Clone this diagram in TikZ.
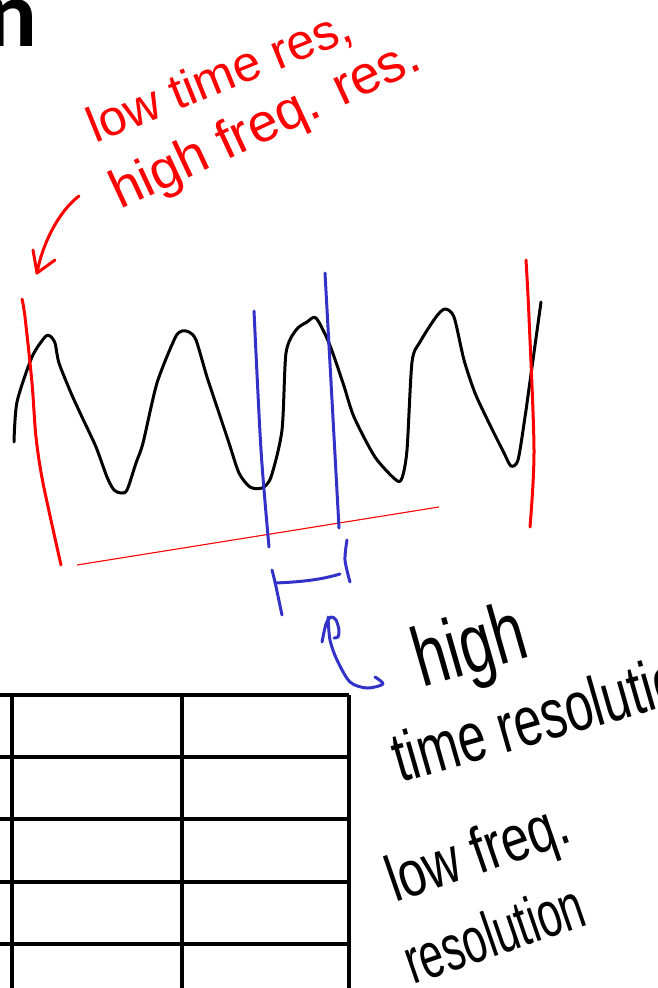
\documentclass[tikz,border=0pt]{standalone}
\usepackage{fontspec}
\usepackage{graphicx}
\setmainfont{Liberation Sans}
\newfontfamily\titlefont{Carlito}
\definecolor{penred}{RGB}{255,0,0}
\definecolor{penblue}{RGB}{50,50,200}
\begin{document}
\begin{tikzpicture}[x=1pt,y=-1pt,
  wave/.style={draw=black, line width=3pt, line cap=round, line join=round},
  redpen/.style={draw=penred, line width=3pt, line cap=round, line join=round},
  redthin/.style={draw=penred, line width=1.1pt},
  bluepen/.style={draw=penblue, line width=3pt, line cap=round, line join=round},
  gridline/.style={draw=black, line width=3.4pt},
  redtext/.style={text=penred, inner sep=0pt, anchor=base west},
  handtext/.style={text=black, inner sep=0pt, anchor=base west}]
\useasboundingbox (0,0) rectangle (657,988);
\clip (0,0) rectangle (657,988);

% cut-off title letter
\node[inner sep=0pt, anchor=base east, font=\titlefont\bfseries\fontsize{95}{100}\selectfont] (title) at (38,46) {n};

% red annotation
\node[redtext, rotate=22, font=\fontsize{50}{60}\selectfont] (lowtime) at (95,144) {low time res,};
\node[redtext, rotate=25, font=\fontsize{54}{60}\selectfont] (highfreq) at (120,210) {high freq. res.};
\coordinate (ra0) at (79,196);
\coordinate (ra1) at (37,273);
\draw[redpen] (ra0) .. controls (58,212) and (42,245) .. (ra1);
\draw[redpen] (33,250) -- (ra1) -- (55,260);

% signal
\draw[wave] plot[smooth, tension=0.45] coordinates {
(14,442) (17,402) (32,357) (45,337) (50,336) (55,343) (59,363) (71,393) (82,417)
(96,447) (107,477) (114,490) (121,493) (127,490) (136,463) (143,443) (157,383)
(175,338) (182,331) (189,332) (196,340) (207,377) (218,410) (229,443) (239,473)
(250,487) (262,488) (271,477) (282,430) (286,353) (296,330) (307,322) (316,318)
(329,343) (343,383) (354,417) (375,457) (396,480) (402,478) (407,450) (412,362)
(420,342) (436,317) (445,309) (454,317) (464,360) (475,393) (489,423) (504,453)
(511,466) (518,460) (525,417) (532,367) (541,302)};

% red window
\draw[redpen] plot[smooth] coordinates {(22,299) (25,317) (32,383) (36,437) (43,483) (61,565)};
\draw[redpen] plot[smooth] coordinates {(526,260) (529,317) (534,450) (530,527)};
\draw[redthin] (77,565) -- (439,507);

% blue window
\draw[bluepen] plot[smooth] coordinates {(254,311) (261,450) (269,547)};
\draw[bluepen] plot[smooth] coordinates {(325,273) (332,400) (339,528)};
\draw[bluepen] plot[smooth] coordinates {(272,570) (275,582) (282,615)};
\draw[bluepen] (275,583) .. controls (300,582) and (320,580) .. (340,574);
\draw[bluepen] plot[smooth] coordinates {(347,540) (345,560) (350,582)};

% blue arrow
\coordinate (ba0) at (375,677);
\coordinate (ba1) at (328,617);
\draw[bluepen] plot[smooth] coordinates {(ba0) (383,684) (367,688) (350,682) (337,660) (330,640) (ba1)};
\draw[bluepen] plot[smooth] coordinates {(322,642) (326,624) (331,617) (336,620) (339,630) (338,637) (334,638)};

% black handwriting
\node[handtext, rotate=16] (high) at (422,688) {\fontsize{60}{70}\selectfont\scalebox{1}[1.4]{high}};
\node[handtext, rotate=16] (timeres) at (400,783) {\fontsize{50}{60}\selectfont\scalebox{1}[1.4]{time resolution}};
\node[handtext, rotate=19] (lowfreq) at (395,903) {\fontsize{50}{60}\selectfont\scalebox{1}[1.3]{low freq.}};
\node[handtext, rotate=19] (reso) at (413,985) {\fontsize{43}{50}\selectfont\scalebox{1}[1.5]{resolution}};

% table
\foreach \yy in {695,757,819,882,944} {\draw[gridline] (0,\yy) -- (349,\yy);}
\foreach \xx in {12,182,349} {\draw[gridline] (\xx,695) -- (\xx,990);}
\end{tikzpicture}
\end{document}
